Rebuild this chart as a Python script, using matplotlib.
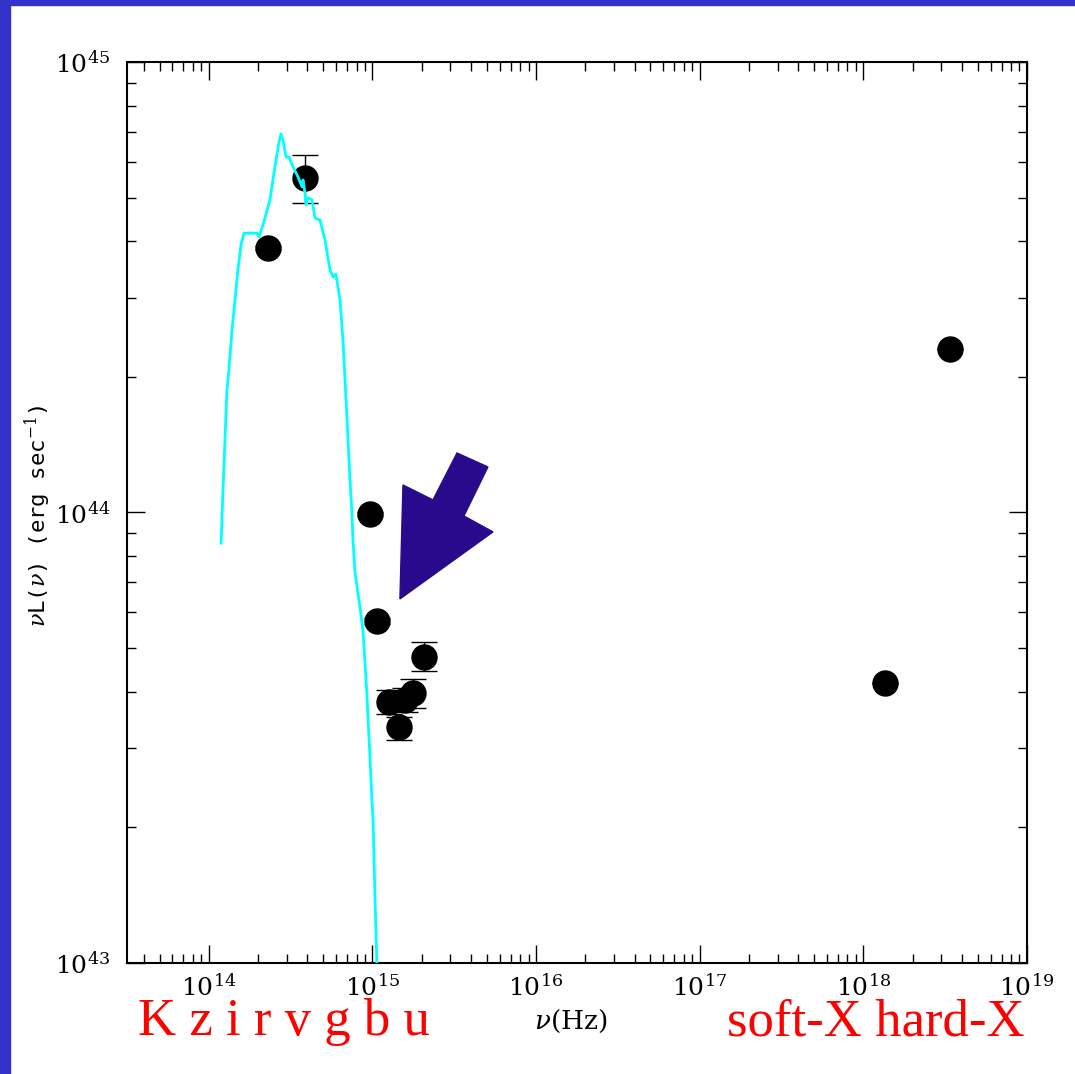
import matplotlib
matplotlib.use("Agg")
import matplotlib.pyplot as plt
import numpy as np
from matplotlib.patches import Polygon, Rectangle

plt.rcParams["font.family"] = ["DejaVu Serif"]
plt.rcParams["mathtext.fontset"] = "dejavuserif"

# photometric points (log10 nu [Hz], log10 nuL [erg/s], error down/up in dex)
log_nu_pts = [14.362, 14.588, 14.985, 15.028, 15.101, 15.199, 15.248, 15.163, 15.315, 18.133, 18.530]
log_L_pts = [44.587, 44.742, 43.997, 43.759, 43.579, 43.584, 43.599, 43.524, 43.679, 43.621, 44.363]
err_lo = [0.005, 0.055, 0.005, 0.006, 0.027, 0.027, 0.033, 0.030, 0.030, 0.0, 0.0]
err_hi = [0.005, 0.052, 0.005, 0.006, 0.027, 0.027, 0.031, 0.022, 0.034, 0.0, 0.0]

# template spectrum (cyan curve)
log_nu_tpl = [14.075, 14.087, 14.099, 14.111, 14.123, 14.142, 14.160, 14.178, 14.197, 14.215,
              14.295, 14.307, 14.337, 14.356, 14.374, 14.392, 14.411, 14.429, 14.441, 14.453,
              14.472, 14.490, 14.515, 14.545, 14.570, 14.576, 14.588, 14.594, 14.606, 14.631,
              14.649, 14.680, 14.710, 14.741, 14.759, 14.777, 14.802, 14.820, 14.839, 14.851,
              14.863, 14.875, 14.881, 14.894, 14.924, 14.942, 14.955, 14.967, 14.985, 14.997,
              15.004, 15.010, 15.016, 15.028]
log_L_tpl = [43.932, 44.050, 44.161, 44.272, 44.316, 44.405, 44.472, 44.538, 44.594, 44.620,
             44.620, 44.612, 44.645, 44.671, 44.694, 44.738, 44.782, 44.822, 44.840, 44.827,
             44.789, 44.789, 44.767, 44.745, 44.723, 44.738, 44.709, 44.683, 44.698, 44.694,
             44.654, 44.649, 44.605, 44.538, 44.523, 44.529, 44.472, 44.383, 44.250, 44.161,
             44.072, 43.999, 43.939, 43.866, 43.790, 43.739, 43.666, 43.590, 43.457, 43.362,
             43.317, 43.229, 43.140, 42.990]

band_text = "K z i r v g b u"
xray_text = "soft-X hard-X"

nu = 10 ** np.array(log_nu_pts)
L = 10 ** np.array(log_L_pts)
yerr = [L - 10 ** (np.array(log_L_pts) - np.array(err_lo)),
        10 ** (np.array(log_L_pts) + np.array(err_hi)) - L]

fig = plt.figure(figsize=(10.75, 10.74), dpi=100)
# slide border
fig.patches.append(Rectangle((0, 0), 10 / 1075, 1, transform=fig.transFigure, color="#3333cc", zorder=0))
fig.patches.append(Rectangle((0, 1 - 5 / 1074), 1, 5 / 1074, transform=fig.transFigure, color="#3333cc", zorder=0))

ax = fig.add_axes([0.1181, 0.1034, 0.8372, 0.8389])
ax.set_xscale("log")
ax.set_yscale("log")
ax.set_xlim(10 ** 13.5, 1e19)
ax.set_ylim(1e43, 1e45)

ax.errorbar(nu, L, yerr=yerr, fmt="o", color="black", ms=18, capsize=9.5,
            elinewidth=1, capthick=1, zorder=3)
ax.plot(10 ** np.array(log_nu_tpl), 10 ** np.array(log_L_tpl), color="#00ffff", lw=2, zorder=4)

# pointing arrow
arrow = Polygon([(0.3033, 0.404), (0.3067, 0.5305), (0.34, 0.5139), (0.3667, 0.566),
                 (0.4011, 0.5505), (0.3744, 0.4961), (0.4067, 0.4784)],
                closed=True, transform=ax.transAxes, color="#2a0a8c", zorder=5)
ax.add_patch(arrow)

ax.tick_params(which="both", direction="in", top=True, right=True, labelsize=18)
ax.tick_params(which="major", length=13, width=1)
ax.tick_params(which="minor", length=6.5, width=1)
ax.tick_params(axis="x", pad=8)
ax.tick_params(axis="y", pad=12)
for s in ax.spines.values():
    s.set_linewidth(1.5)

fig.text(0.531, 0.049, r"$\nu$(Hz)", fontsize=19, ha="center", va="center")
fig.text(0.035, 0.52, r"$\nu$L($\nu$) (erg sec$^{-1}$)", fontsize=16, rotation=90,
         ha="center", va="center", family=["DejaVu Sans Mono"])

fig.text(0.128, 0.0363, band_text, color="red", fontsize=38, family=["Liberation Serif"], va="baseline")
fig.text(0.676, 0.0363, xray_text, color="red", fontsize=38, family=["Liberation Serif"], va="baseline")

fig.savefig("out.png", dpi=100)
plt.close(fig)
